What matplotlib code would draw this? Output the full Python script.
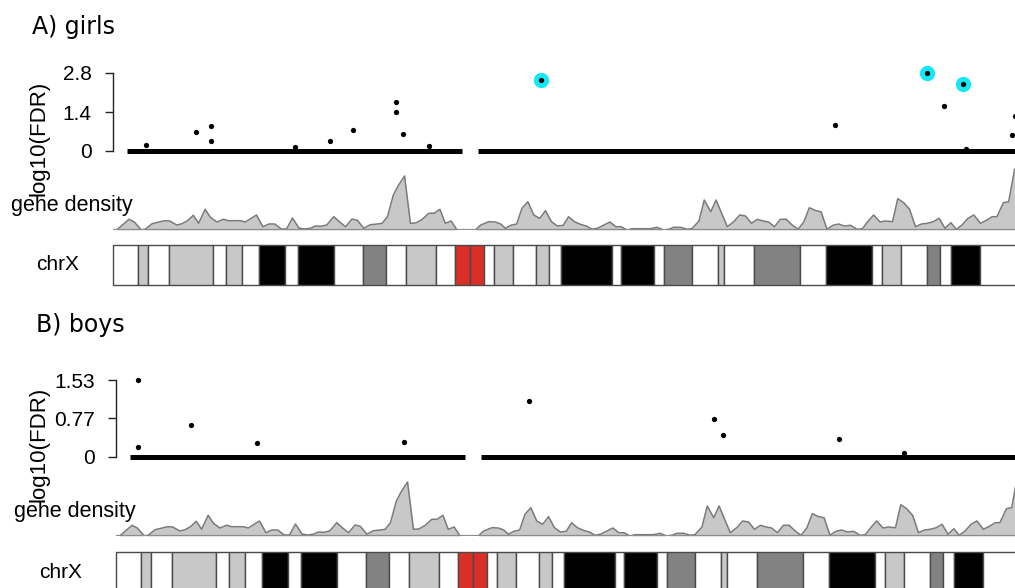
import matplotlib
matplotlib.use("Agg")
import matplotlib.pyplot as plt
from matplotlib.patches import Rectangle

plt.rcParams['font.family'] = ['Liberation Sans', 'DejaVu Sans']

W, H = 1015, 588
CHR_LEN = 155.27  # chrX length, Mb

# chrX cytobands (start, Mb) and stains
band_start = [0, 4.3, 6.0, 9.5, 17.1, 19.3, 21.9, 24.9, 29.3, 31.5, 37.6, 42.4,
              46.4, 49.8, 54.8, 58.1, 60.6, 63.0, 64.6, 67.8, 71.8, 73.9, 76.0,
              84.6, 86.2, 91.8, 93.5, 98.3, 102.6, 103.7, 108.7, 116.5, 120.9,
              128.7, 130.4, 133.6, 138.0, 140.3, 142.1, 147.1]
band_stain = ['gneg', 'gpos50', 'gneg', 'gpos50', 'gneg', 'gpos50', 'gneg',
              'gpos100', 'gneg', 'gpos100', 'gneg', 'gpos75', 'gneg', 'gpos25',
              'gneg', 'acen', 'acen', 'gneg', 'gpos50', 'gneg', 'gpos50', 'gneg',
              'gpos100', 'gneg', 'gpos100', 'gneg', 'gpos75', 'gneg', 'gpos50',
              'gneg', 'gpos75', 'gneg', 'gpos100', 'gneg', 'gpos25', 'gneg',
              'gpos75', 'gneg', 'gpos100', 'gneg']
stain_color = {'gneg': '#ffffff', 'gpos25': '#c8c8c8', 'gpos50': '#c8c8c8',
               'gpos75': '#828282', 'gpos100': '#000000', 'acen': '#d92f27'}

# gene density along chrX (Mb, genes per window)
dens_pos = [0.7, 2.8, 3.7, 4.9, 5.6, 6.7, 7.9, 8.8, 9.7, 10.9, 11.8, 12.7, 13.7,
            14.6, 15.7, 16.6, 17.7, 18.8, 19.7, 21.7, 22.5, 24.4, 25.5, 26.5,
            27.5, 28.6, 29.5, 30.5, 31.6, 32.5, 33.5, 34.4, 35.3, 36.3, 37.5,
            38.5, 39.5, 40.6, 41.5, 42.6, 43.7, 44.9, 45.7, 46.6, 47.6, 48.5,
            49.5, 50.5, 51.4, 52.5, 53.6, 54.5, 55.5, 56.4, 57.4, 58.4, 61.5,
            62.4, 63.8, 64.9, 65.8, 66.6, 67.5, 68.5, 69.4, 70.4, 71.4, 72.4,
            73.4, 74.4, 75.4, 76.4, 77.3, 78.3, 79.3, 80.3, 81.3, 82.3, 83.3,
            84.3, 85.3, 86.2, 87.2, 88.1, 91.2, 92.3, 93.4, 94.3, 95.1, 96.3,
            97.4, 98.2, 99.4, 100.3, 101.4, 102.3, 104.2, 105.3, 106.3, 107.3,
            108.3, 109.3, 110.3, 111.2, 112.2, 113.2, 114.2, 115.2, 116.2, 117.2,
            118.1, 119.2, 120.1, 121.1, 122.1, 123.1, 124.0, 125.1, 126.2, 127.1,
            128.0, 129.0, 130.1, 131.0, 132.2, 133.1, 134.1, 135.1, 136.1, 137.1,
            138.1, 139.1, 140.1, 141.1, 142.1, 143.0, 144.0, 145.0, 146.0, 147.1,
            148.0, 149.1, 149.9, 151.0, 151.9, 152.9]
dens_val = [0, 10.7, 8, 0, 1, 6.3, 8, 9.3, 9, 5, 6.3, 9.3, 14.7,
            6.7, 20.7, 12.7, 8, 10.7, 9.3, 9.3, 8, 15, 3.3, 6,
            6, 1, 1, 12, 2, 1, 1.7, 4, 3.7, 5, 13.3,
            8, 3.3, 11, 9.7, 1.7, 5.3, 6, 6.7, 13.3, 35, 45,
            54, 6.7, 7, 10.7, 16.7, 16.7, 20.7, 6.7, 9, 0, 0,
            5, 8.3, 8, 6, 1.7, 4.7, 6, 21.7, 28.3, 15, 11.7,
            19.3, 8.3, 4, 4.7, 13.3, 8.3, 5.7, 4, 0.7, 2, 5,
            8, 3.3, 3.3, 0, 1.3, 1.3, 2.7, 0, 0.7, 2.7, 2.7,
            0.7, 1.3, 9, 30, 18.3, 30, 3.3, 8.3, 15, 14,
            6.7, 10.7, 9, 8, 3.3, 10.7, 10.7, 5, 0.7, 8.3,
            22.3, 19.3, 18.3, 0.7, 4.7, 6, 4, 4.7, 0.7, 1.3,
            8.3, 15, 8, 9, 8.3, 31.3, 27.3, 20.7, 3.3, 6,
            6.7, 8.3, 11.7, 1.7, 7.3, 0.7, 5, 11.7, 15, 6.7,
            9.3, 13.3, 13.3, 27.3, 28.3, 60.7]

# regions covered by tested CpGs (all near -log10(FDR) = 0)
tested_regions = [(2.5, 59.2), (62.0, CHR_LEN)]

# significant hits, -log10(FDR)
girls_pos = [5.6, 14.2, 16.7, 16.7, 31.0, 36.9, 40.7, 48.05, 48.05, 49.3, 53.6,
             72.7, 122.5, 138.1, 141.0, 144.2, 144.7, 152.9, 152.5]
girls_val = [0.22, 0.68, 0.90, 0.36, 0.14, 0.36, 0.75, 1.76, 1.40, 0.61, 0.18,
             2.55, 0.93, 2.80, 1.62, 2.41, 0.07, 1.26, 0.57]
boys_pos = [3.8, 3.8, 12.8, 24.0, 48.9, 70.1, 101.4, 102.9, 122.6, 133.6]
boys_val = [1.53, 0.20, 0.64, 0.28, 0.30, 1.11, 0.76, 0.44, 0.36, 0.08]
highlight_min = 2.0


def px_axes(fig, left, top, right, bottom):
    return fig.add_axes([left / W, 1 - bottom / H, (right - left) / W, (bottom - top) / H])


def draw_panel(fig, title, x0, title_y, m_top, m_bot, ymax, yticks, pos, val,
               base_y, ideo_top):
    x1 = x0 + CHR_LEN * 5.9
    fig.text((x0 - 80) / W, 1 - title_y / H, title, fontsize=17,
             family='DejaVu Sans', ha='left', va='center')

    # manhattan track
    ax = px_axes(fig, x0, m_top, x1, m_bot)
    ax.set_xlim(0, CHR_LEN)
    ax.set_ylim(0, ymax)
    for s in ['top', 'right', 'bottom']:
        ax.spines[s].set_visible(False)
    ax.spines['left'].set_linewidth(1)
    ax.spines['left'].set_color('#222222')
    ax.set_xticks([])
    ax.set_yticks(yticks)
    ax.set_yticklabels([('%g' % t) for t in yticks])
    ax.tick_params(axis='y', length=6, width=1, pad=9, labelsize=15,
                   color='#222222')
    ax.patch.set_alpha(0)
    for a, b in tested_regions:
        ax.hlines(0, a, b, color='black', lw=3.6, clip_on=False)
    hx = [p for p, v in zip(pos, val) if v >= highlight_min]
    hy = [v for v in val if v >= highlight_min]
    ax.plot(hx, hy, 'o', ms=11, color='#14e8f4', mec='none', clip_on=False, zorder=3)
    ax.plot(pos, val, 'o', ms=3.8, color='black', mec='none', clip_on=False, zorder=4)
    fig.text(39 / W, 1 - ((m_top + m_bot) / 2 + 26) / H, 'log10(FDR)',
             rotation=90, fontsize=16, ha='center', va='center')

    # gene density track
    dax = px_axes(fig, x0, base_y - 65, x1, base_y)
    dax.set_xlim(0, CHR_LEN)
    dax.set_ylim(0, 65)
    dax.axis('off')
    dax.fill_between(dens_pos, dens_val, 0, color='#c8c8c8', lw=0)
    dax.plot(dens_pos, dens_val, color='#7a7a7a', lw=1.1)
    dax.axhline(0, color='#8c8c8c', lw=1.6)
    fig.text((x0 - 41) / W, 1 - (base_y - 25) / H, 'gehe density', fontsize=15.5,
             ha='center', va='center')

    # ideogram
    iax = px_axes(fig, x0, ideo_top, x1, ideo_top + 40)
    iax.set_xlim(0, CHR_LEN)
    iax.set_ylim(0, 1)
    iax.axis('off')
    ends = band_start[1:] + [CHR_LEN]
    for a, b, st in zip(band_start, ends, band_stain):
        iax.add_patch(Rectangle((a, 0), b - a, 1, facecolor=stain_color[st],
                                edgecolor='#4a4a4a', lw=1, clip_on=False))
    fig.text((x0 - 55) / W, 1 - (ideo_top + 20) / H, 'chrX', fontsize=15,
             ha='center', va='center')


fig = plt.figure(figsize=(W / 100, H / 100), dpi=100)
draw_panel(fig, 'A) girls', 112.5, 27, 73, 151, 2.8, [0, 1.4, 2.8],
           girls_pos, girls_val, 230, 245)
draw_panel(fig, 'B) boys', 115.5, 325, 380, 457, 1.53, [0, 0.77, 1.53],
           boys_pos, boys_val, 536, 552)
fig.savefig('out.png', dpi=100)
